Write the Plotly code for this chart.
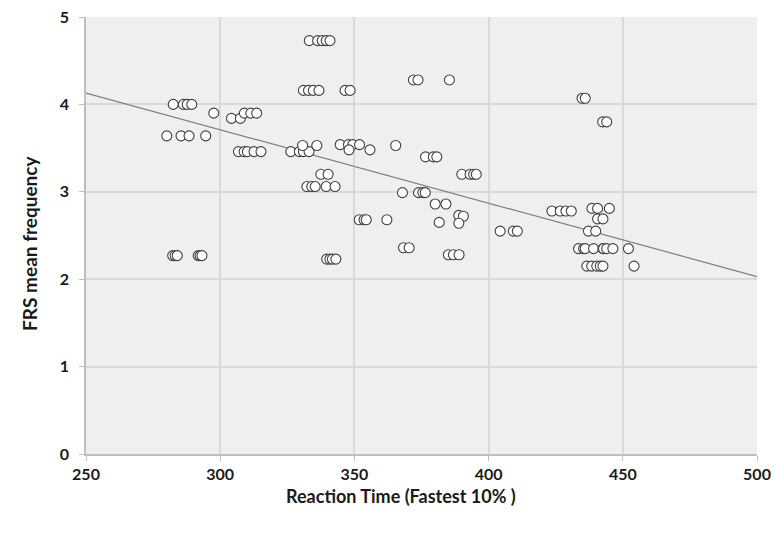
import plotly.graph_objects as go

# Reaction time (fastest 10%) values
rt = [
    282.5, 286.3, 287.7, 289.4, 297.6, 304.2, 307.5, 309.0, 311.4, 313.6,
    280.1, 285.4, 288.4, 294.6, 306.8, 308.9, 310.1, 312.6, 315.2,
    282.3, 283.2, 284.0, 291.8, 292.5, 293.2,
    333.2, 336.3, 338.0, 339.5, 340.9,
    331.0, 332.9, 334.7, 336.8, 346.5, 348.4,
    372.0, 373.7, 385.4,
    326.3, 329.5, 331.0, 333.1, 330.7, 336.0,
    344.7, 347.8, 349.4, 351.9, 348.0, 355.8, 365.4,
    376.5, 379.4, 380.7,
    337.5, 340.2, 390.0, 393.1, 394.4, 395.4,
    332.3, 334.1, 335.4, 339.5, 342.8,
    367.9, 373.9, 375.5, 376.4,
    380.1, 384.1,
    351.8, 353.6, 354.4, 362.1, 381.6,
    388.9, 390.6, 388.9,
    404.3, 409.2, 410.7,
    368.3, 370.4,
    339.7, 340.9, 341.8, 343.1,
    385.0, 386.9, 389.0,
    434.8, 436.0, 442.5, 444.0,
    423.6, 426.7, 428.8, 430.8, 438.5, 440.6, 445.0,
    440.6, 442.6, 437.2, 439.9,
    433.5, 435.4, 436.0, 439.1, 442.6, 442.8, 444.0, 446.3, 452.1,
    436.6, 438.4, 440.3, 441.6, 442.6, 454.2,
]
# FRS mean frequency values
frs = [
    4.00, 4.00, 4.00, 4.00, 3.90, 3.84, 3.84, 3.90, 3.90, 3.90,
    3.64, 3.64, 3.64, 3.64, 3.46, 3.46, 3.46, 3.46, 3.46,
    2.27, 2.27, 2.27, 2.27, 2.27, 2.27,
    4.73, 4.73, 4.73, 4.73, 4.73,
    4.16, 4.16, 4.16, 4.16, 4.16, 4.16,
    4.28, 4.28, 4.28,
    3.46, 3.46, 3.46, 3.46, 3.53, 3.53,
    3.54, 3.54, 3.54, 3.54, 3.48, 3.48, 3.53,
    3.40, 3.40, 3.40,
    3.20, 3.20, 3.20, 3.20, 3.20, 3.20,
    3.06, 3.06, 3.06, 3.06, 3.06,
    2.99, 2.99, 2.99, 2.99,
    2.86, 2.86,
    2.68, 2.68, 2.68, 2.68, 2.65,
    2.73, 2.72, 2.64,
    2.55, 2.55, 2.55,
    2.36, 2.36,
    2.23, 2.23, 2.23, 2.23,
    2.28, 2.28, 2.28,
    4.07, 4.07, 3.80, 3.80,
    2.78, 2.78, 2.78, 2.78, 2.81, 2.81, 2.81,
    2.69, 2.69, 2.55, 2.55,
    2.35, 2.35, 2.35, 2.35, 2.35, 2.35, 2.35, 2.35, 2.35,
    2.15, 2.15, 2.15, 2.15, 2.15, 2.15,
]

# Linear trendline endpoints
trend_x = [250, 500]
trend_y = [4.13, 2.03]

x_ticks = [250, 300, 350, 400, 450, 500]
y_ticks = [0, 1, 2, 3, 4, 5]

x_title = "Reaction Time (Fastest 10% )"
y_title = "FRS mean frequency"

font_family = "Lato"

fig = go.Figure()
fig.add_trace(go.Scatter(
    x=trend_x, y=trend_y, mode="lines",
    line=dict(color="#7f7f7f", width=1.2),
    hoverinfo="skip", showlegend=False,
))
fig.add_trace(go.Scatter(
    x=rt, y=frs, mode="markers",
    marker=dict(size=10, color="white", line=dict(color="#404040", width=1.1)),
    showlegend=False,
))

axis_common = dict(
    tickfont=dict(size=16),
    showgrid=True, gridcolor="#d9d9d9", gridwidth=1.5,
    showline=True, linecolor="#bfbfbf", linewidth=1.5,
    ticks="outside", ticklen=5, tickcolor="#bfbfbf",
    ticklabeloverflow="allow",
    zeroline=False, automargin=False,
)

fig.update_layout(
    width=774, height=536,
    margin=dict(l=86, r=17, t=17, b=82),
    paper_bgcolor="white",
    plot_bgcolor="#efefef",
    font=dict(family=font_family, color="#1a1a1a"),
    xaxis=dict(
        range=[250, 500], tickvals=x_ticks,
        ticktext=[f"<b>{v}</b>" for v in x_ticks],
        **axis_common,
    ),
    yaxis=dict(
        range=[0, 5], tickvals=y_ticks,
        ticktext=[f"<b>{v}</b>" for v in y_ticks],
        ticklabelstandoff=7,
        **axis_common,
    ),
    annotations=[
        dict(text=f"<b>{x_title}</b>", xref="paper", yref="paper",
             x=0.47, y=-0.095, xanchor="center", yanchor="middle",
             showarrow=False, font=dict(size=18)),
        dict(text=f"<b>{y_title}</b>", xref="paper", yref="paper",
             x=-0.0835, y=0.483, xanchor="center", yanchor="middle",
             textangle=-90, showarrow=False, font=dict(size=19)),
    ],
)

fig.write_html(
    "out.html",
    config={"displayModeBar": False},
    post_script="document.body.style.margin='0';",
)
